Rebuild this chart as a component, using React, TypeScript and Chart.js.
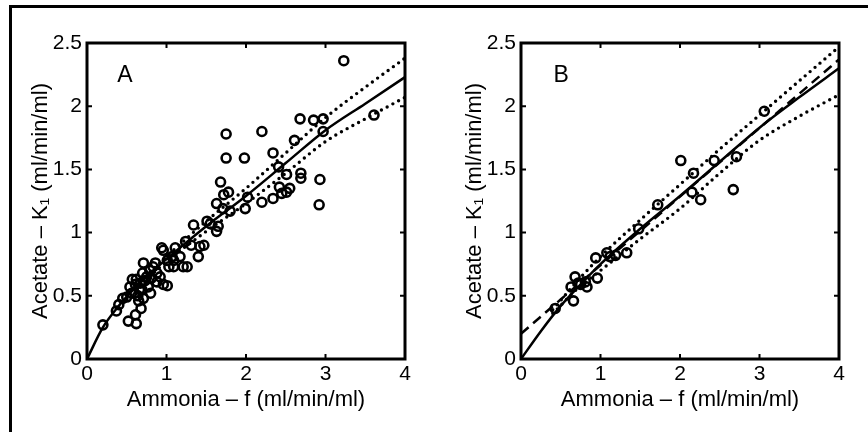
import React, { useEffect, useRef } from "react";
import { Chart, registerables } from "chart.js";

Chart.register(...registerables);

// ---------- Data ----------
const xTicks = [0, 1, 2, 3, 4];
const yTicks = [0, 0.5, 1, 1.5, 2, 2.5];

const aPointsX = [0.2, 0.37, 0.4, 0.45, 0.5, 0.52, 0.54, 0.56, 0.57, 0.61, 0.62, 0.61, 0.62, 0.65, 0.67, 0.68, 0.69, 0.71, 0.71, 0.75, 0.77, 0.8, 0.81, 0.83, 0.86, 0.88, 0.88, 0.92, 0.94, 0.96, 0.96, 1.01, 1.01, 1.03, 1.07, 1.09, 1.09, 1.11, 1.17, 1.21, 1.24, 1.26, 1.31, 1.34, 1.4, 1.42, 1.47, 1.51, 1.55, 1.63, 1.65, 1.63, 1.68, 1.71, 1.72, 1.75, 1.75, 1.78, 1.8, 1.98, 1.99, 2.02, 2.2, 2.2, 2.34, 2.34, 2.41, 2.42, 2.45, 2.51, 2.51, 2.55, 2.61, 2.68, 2.69, 2.69, 2.85, 2.97, 2.97, 2.93, 2.92, 3.23, 3.61, 0.6, 0.66, 0.73, 0.79, 0.7, 0.64];
const aPointsY = [0.27, 0.38, 0.43, 0.48, 0.49, 0.3, 0.57, 0.52, 0.63, 0.35, 0.28, 0.59, 0.63, 0.46, 0.6, 0.4, 0.55, 0.48, 0.76, 0.65, 0.57, 0.52, 0.64, 0.73, 0.76, 0.68, 0.61, 0.65, 0.88, 0.86, 0.59, 0.58, 0.78, 0.73, 0.81, 0.78, 0.73, 0.88, 0.81, 0.73, 0.93, 0.73, 0.9, 1.06, 0.81, 0.89, 0.9, 1.09, 1.07, 1.01, 1.05, 1.23, 1.4, 1.19, 1.3, 1.78, 1.59, 1.32, 1.17, 1.59, 1.19, 1.28, 1.8, 1.24, 1.63, 1.27, 1.52, 1.36, 1.31, 1.46, 1.32, 1.35, 1.73, 1.9, 1.47, 1.43, 1.89, 1.9, 1.8, 1.42, 1.22, 2.36, 1.93, 0.52, 0.55, 0.62, 0.7, 0.68, 0.5];

const aFitX = [0, 0.2, 0.4, 0.6, 0.8, 1, 1.5, 2, 2.5, 3, 3.5, 4];
const aFitY = [0, 0.25, 0.42, 0.56, 0.68, 0.79, 1.05, 1.29, 1.55, 1.81, 2.02, 2.23];
const aBandX = [0.5, 0.7, 1, 1.5, 2, 2.5, 3, 3.5, 4];
const aUpperY = [0.51, 0.63, 0.81, 1.09, 1.35, 1.63, 1.91, 2.15, 2.38];
const aLowerY = [0.47, 0.6, 0.77, 1.01, 1.23, 1.47, 1.72, 1.9, 2.07];

const bPointsX = [0.43, 0.63, 0.66, 0.68, 0.72, 0.75, 0.81, 0.83, 0.96, 0.94, 1.08, 1.12, 1.19, 1.33, 1.48, 1.72, 2.01, 2.15, 2.17, 2.26, 2.43, 2.67, 2.71, 3.06];
const bPointsY = [0.4, 0.57, 0.46, 0.65, 0.6, 0.59, 0.61, 0.57, 0.64, 0.8, 0.84, 0.81, 0.82, 0.84, 1.03, 1.22, 1.57, 1.32, 1.47, 1.26, 1.57, 1.34, 1.6, 1.96];

const bFitX = [0, 0.25, 0.5, 0.75, 1, 1.5, 2, 2.5, 3, 3.5, 4];
const bFitY = [0, 0.22, 0.42, 0.59, 0.75, 1.03, 1.29, 1.56, 1.83, 2.07, 2.3];
const bDashX = [0, 4];
const bDashY = [0.2, 2.37];
const bBandX = [0.4, 0.7, 1, 1.5, 2, 2.5, 3, 3.5, 4];
const bUpperY = [0.39, 0.61, 0.81, 1.1, 1.38, 1.66, 1.93, 2.2, 2.47];
const bLowerY = [0.36, 0.55, 0.7, 0.95, 1.19, 1.47, 1.73, 1.92, 2.09];

const xTitle = "Ammonia – f (ml/min/ml)";
const yTitle = "Acetate – K₁ (ml/min/ml)";

const FONT = "'Liberation Sans', Arial, Helvetica, sans-serif";

const zip = (xs: number[], ys: number[]) => xs.map((x, i) => ({ x, y: ys[i] }));

const framePlugin = {
  id: "matlabFrame",
  afterDraw(chart: any, _args: any, opts: any) {
    const { ctx, chartArea } = chart;
    const xs = chart.scales.x;
    const ys = chart.scales.y;
    const { left, right, top, bottom } = chartArea;
    ctx.save();
    ctx.strokeStyle = "#000";
    ctx.lineWidth = 2;
    const tl = 5;
    ctx.beginPath();
    xTicks.forEach((v) => {
      const p = xs.getPixelForValue(v);
      ctx.moveTo(p, bottom);
      ctx.lineTo(p, bottom - tl);
      ctx.moveTo(p, top);
      ctx.lineTo(p, top + tl);
    });
    yTicks.forEach((v) => {
      const p = ys.getPixelForValue(v);
      ctx.moveTo(left, p);
      ctx.lineTo(left + tl, p);
      ctx.moveTo(right, p);
      ctx.lineTo(right - tl, p);
    });
    ctx.stroke();
    ctx.lineWidth = 3;
    ctx.strokeRect(left, top, right - left, bottom - top);
    // panel letter
    ctx.fillStyle = "#000";
    ctx.font = `23px ${FONT}`;
    ctx.textBaseline = "alphabetic";
    ctx.textAlign = "left";
    ctx.fillText(opts.letter, xs.getPixelForValue(opts.lx), ys.getPixelForValue(opts.ly));
    ctx.restore();
  },
};

function makeConfig(letter: string, lx: number, ly: number, datasets: any[]) {
  return {
    type: "scatter",
    data: { datasets },
    options: {
      animation: false,
      responsive: false,
      events: [],
      layout: { padding: { top: 43, right: 29, left: 0, bottom: 0 } },
      plugins: {
        legend: { display: false },
        tooltip: { enabled: false },
        matlabFrame: { letter, lx, ly },
      },
      scales: {
        x: {
          type: "linear",
          min: 0,
          max: 4,
          afterBuildTicks: (s: any) => {
            s.ticks = xTicks.map((v) => ({ value: v }));
          },
          afterFit: (s: any) => {
            s.height = 73;
          },
          grid: { display: false, drawTicks: false },
          border: { display: false },
          ticks: {
            color: "#000",
            padding: 3,
            maxRotation: 0,
            font: { family: FONT, size: 21 },
            callback: (v: any) => String(v),
          },
          title: {
            display: true,
            text: xTitle,
            color: "#000",
            font: { family: FONT, size: 22 },
            padding: { top: 0, bottom: 18.5 },
          },
        },
        y: {
          type: "linear",
          min: 0,
          max: 2.5,
          afterBuildTicks: (s: any) => {
            s.ticks = yTicks.map((v) => ({ value: v }));
          },
          afterFit: (s: any) => {
            s.width = 87;
          },
          grid: { display: false, drawTicks: false },
          border: { display: false },
          ticks: {
            color: "#000",
            padding: 5,
            font: { family: FONT, size: 21 },
            callback: (v: any) => String(v),
          },
          title: {
            display: true,
            text: yTitle,
            color: "#000",
            font: { family: FONT, size: 22 },
            padding: { top: 27.5, bottom: 0 },
          },
        },
      },
    },
    plugins: [framePlugin],
  };
}

const pointDs = (xs: number[], ys: number[]) => ({
  data: zip(xs, ys),
  pointStyle: "circle",
  pointRadius: 4.5,
  pointBorderWidth: 2.6,
  pointBorderColor: "#000",
  pointBackgroundColor: "rgba(0,0,0,0)",
  showLine: false,
});

const lineDs = (xs: number[], ys: number[], kind: "solid" | "dot" | "dash") => ({
  data: zip(xs, ys),
  showLine: true,
  pointRadius: 0,
  borderColor: "#000",
  backgroundColor: "#000",
  borderWidth: kind === "dot" ? 3.4 : 2.5,
  borderDash: kind === "dot" ? [0, 6.5] : kind === "dash" ? [10, 6] : [],
  borderCapStyle: kind === "dot" ? "round" : "butt",
  cubicInterpolationMode: "monotone",
  fill: false,
});

function Panel({ config }: { config: any }) {
  const ref = useRef<HTMLCanvasElement | null>(null);
  useEffect(() => {
    if (!ref.current) return;
    const chart = new Chart(ref.current, config);
    return () => chart.destroy();
  }, [config]);
  return <canvas ref={ref} width={434} height={432} style={{ width: 434, height: 432, display: "block" }} />;
}

const configA = makeConfig("A", 0.38, 2.19, [
  lineDs(aFitX, aFitY, "solid"),
  lineDs(aBandX, aUpperY, "dot"),
  lineDs(aBandX, aLowerY, "dot"),
  pointDs(aPointsX, aPointsY),
]);

const configB = makeConfig("B", 0.41, 2.19, [
  lineDs(bFitX, bFitY, "solid"),
  lineDs(bDashX, bDashY, "dash"),
  lineDs(bBandX, bUpperY, "dot"),
  lineDs(bBandX, bLowerY, "dot"),
  pointDs(bPointsX, bPointsY),
]);

export default function App() {
  return (
    <div style={{ position: "absolute", left: 0, top: 0, width: 868, height: 432, overflow: "hidden", background: "#fff" }}>
      <div
        style={{
          position: "absolute",
          left: 9,
          top: 5,
          width: 900,
          height: 500,
          borderLeft: "3px solid #000",
          borderTop: "3px solid #000",
        }}
      />
      <div style={{ position: "absolute", left: 0, top: 0, display: "flex" }}>
        <Panel config={configA} />
        <Panel config={configB} />
      </div>
    </div>
  );
}
